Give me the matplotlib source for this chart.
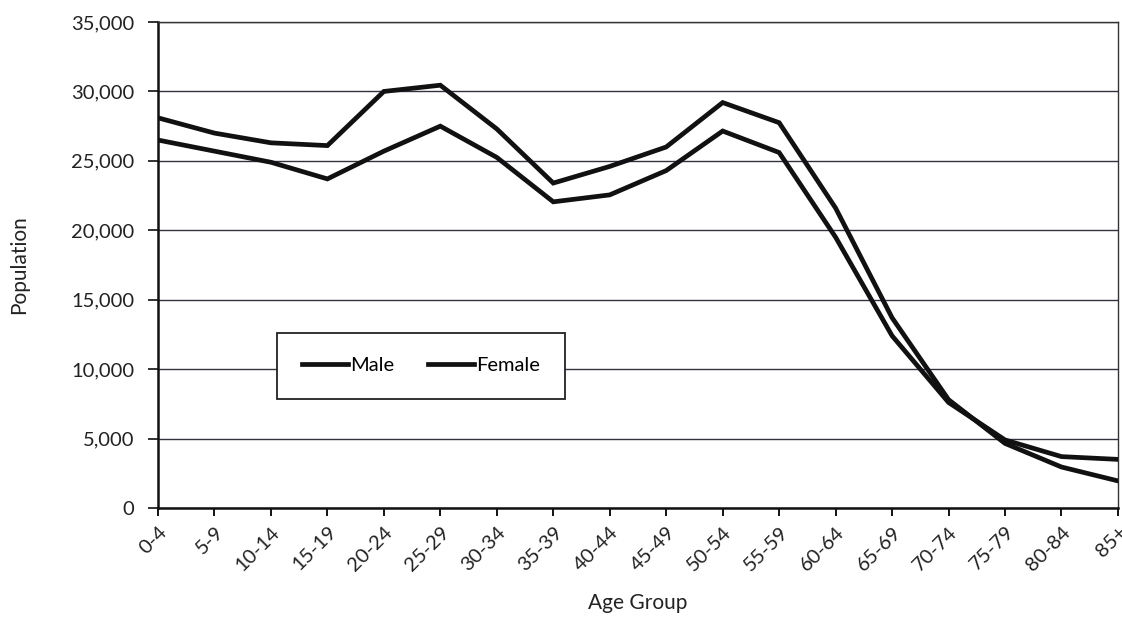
import matplotlib
matplotlib.use("Agg")
import matplotlib.pyplot as plt
from matplotlib.ticker import FuncFormatter, MultipleLocator

age_groups = ["0-4", "5-9", "10-14", "15-19", "20-24", "25-29", "30-34", "35-39",
              "40-44", "45-49", "50-54", "55-59", "60-64", "65-69", "70-74",
              "75-79", "80-84", "85+"]
male = [28100, 27000, 26300, 26100, 30000, 30450, 27300, 23400,
        24600, 26000, 29200, 27750, 21600, 13700, 7800, 4650, 2950, 1950]
female = [26500, 25700, 24900, 23700, 25700, 27500, 25250, 22050,
          22550, 24300, 27150, 25600, 19500, 12400, 7600, 4900, 3700, 3500]

plt.rcParams["font.family"] = ["Lato", "DejaVu Sans"]

fig = plt.figure(figsize=(11.22, 6.17), dpi=100)
ax = fig.add_axes([0.1408, 0.1767, 0.8556, 0.7876])

x = range(len(age_groups))
ax.plot(x, male, color="#111111", lw=3.4, solid_joinstyle="miter", label="Male", zorder=3)
ax.plot(x, female, color="#111111", lw=3.4, solid_joinstyle="miter", label="Female", zorder=3)

ax.set_xlim(0, len(age_groups) - 1)
ax.set_ylim(0, 35000)
ax.yaxis.set_major_locator(MultipleLocator(5000))
ax.yaxis.set_major_formatter(FuncFormatter(lambda v, p: f"{int(v):,}"))
ax.set_xticks(list(x))
ax.set_xticklabels(age_groups, rotation=45, ha="right", va="top",
                   rotation_mode="anchor", fontsize=14.5, color="#222222")
ax.tick_params(axis="y", labelsize=14.5, colors="#222222", length=7, width=1.3, pad=10, direction="out")
ax.tick_params(axis="x", length=6, width=1.3, pad=5, direction="out")

ax.grid(axis="y", color="#333340", lw=1.0)
ax.set_axisbelow(True)
for side in ("left", "bottom"):
    ax.spines[side].set_linewidth(1.8)
    ax.spines[side].set_color("#111111")
for side in ("top", "right"):
    ax.spines[side].set_linewidth(1.0)
    ax.spines[side].set_color("#333333")

ax.set_xlabel("Age Group", fontsize=15, color="#222222", labelpad=14)
ax.set_ylabel("Population", fontsize=15, color="#222222", labelpad=30)

leg = ax.legend(loc="lower left", bbox_to_anchor=(0.1245, 0.225, 0.299, 0.157),
                mode="expand", ncol=2, frameon=True, fancybox=False, fontsize=14.5,
                handlelength=2.3, handletextpad=0.1, columnspacing=1.0,
                borderaxespad=0, borderpad=1.2)
leg.get_frame().set_edgecolor("#222222")
leg.get_frame().set_linewidth(1.3)
leg.get_frame().set_alpha(1)

fig.savefig("out.png", dpi=100)
